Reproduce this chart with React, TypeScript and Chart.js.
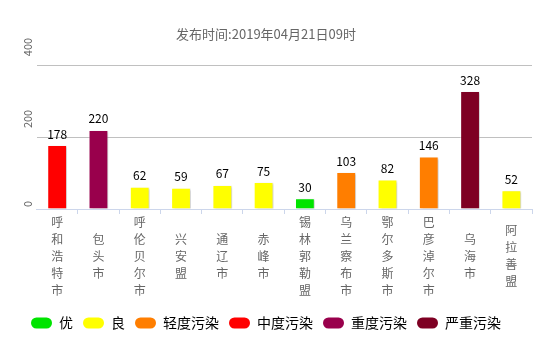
import { useEffect, useRef } from 'react';
import { Chart, registerables } from 'chart.js';

Chart.register(...registerables);

const cities = ['呼和浩特市', '包头市', '呼伦贝尔市', '兴安盟', '通辽市', '赤峰市', '锡林郭勒盟', '乌兰察布市', '鄂尔多斯市', '巴彦淖尔市', '乌海市', '阿拉善盟'];
const aqiValues = [178, 220, 62, 59, 67, 75, 30, 103, 82, 146, 328, 52];
const levelIndex = [3, 4, 1, 1, 1, 1, 0, 2, 1, 2, 5, 1];
const levelNames = ['优', '良', '轻度污染', '中度污染', '重度污染', '严重污染'];
const levelColors = ['#00e400', '#ffff00', '#ff7e00', '#ff0000', '#99004c', '#7e0023'];
const yMax = 400;
const yStep = 200;
const titleText = '发布时间:2019年04月21日09时';

const FONT = '"Noto Sans CJK SC", "Noto Sans", sans-serif';

const shadowPlugin = {
  id: 'barShadow',
  beforeDatasetsDraw(chart: any) {
    const c = chart.ctx;
    c.save();
    c.shadowColor = 'rgba(0,0,0,0.18)';
    c.shadowOffsetX = 2;
    c.shadowOffsetY = 1;
    c.shadowBlur = 2;
  },
  afterDatasetsDraw(chart: any) {
    chart.ctx.restore();
  },
};

const labelPlugin = {
  id: 'customLabels',
  afterDraw(chart: any) {
    const ctx = chart.ctx;
    const meta = chart.getDatasetMeta(0);
    ctx.save();
    ctx.font = '12px ' + FONT;
    ctx.fillStyle = '#000';
    ctx.textAlign = 'center';
    ctx.textBaseline = 'middle';
    meta.data.forEach((bar: any, i: number) => {
      ctx.fillText(String(aqiValues[i]), bar.x, bar.y - 11);
    });
    const ys = chart.scales.y;
    ctx.font = '11px ' + FONT;
    ctx.fillStyle = '#666';
    ys.ticks.forEach((t: any) => {
      const py = ys.getPixelForValue(t.value);
      ctx.save();
      ctx.translate(27.5, t.value === 0 ? py - 2 : py - 9);
      ctx.rotate(-Math.PI / 2);
      ctx.textAlign = 'left';
      ctx.textBaseline = 'middle';
      ctx.fillText(String(t.value), 0, 0);
      ctx.restore();
    });
    ctx.restore();
  },
};

export default function App() {
  const canvasRef = useRef<HTMLCanvasElement | null>(null);

  useEffect(() => {
    document.body.style.margin = '0';
    const canvas = canvasRef.current;
    if (!canvas) return;
    const chart = new Chart(canvas, {
      type: 'bar',
      data: {
        labels: cities.map((c) => c.split('')),
        datasets: [
          {
            data: aqiValues,
            backgroundColor: levelIndex.map((l) => levelColors[l]),
            borderColor: 'rgba(255,255,255,0.45)',
            borderWidth: 1,
            barPercentage: 0.48,
            categoryPercentage: 1,
          },
        ],
      },
      options: {
        animation: false,
        responsive: true,
        maintainAspectRatio: false,
        layout: { padding: { left: 0, right: 14, top: 0, bottom: 11 } },
        plugins: {
          tooltip: { enabled: false },
          title: {
            display: true,
            text: titleText,
            color: '#666',
            font: { family: FONT, size: 13, weight: 'normal' },
            padding: { top: 26, bottom: 23.6 },
          },
          legend: {
            display: true,
            position: 'bottom',
            onClick: () => {},
            labels: {
              boxWidth: 21,
              boxHeight: 11,
              useBorderRadius: true,
              borderRadius: 5.5,
              padding: 10,
              color: '#333',
              font: { family: FONT, size: 14 },
              generateLabels: () =>
                levelNames.map((name, i) => ({
                  text: name,
                  fillStyle: levelColors[i],
                  strokeStyle: levelColors[i],
                  lineWidth: 0,
                  hidden: false,
                  borderRadius: 5.5,
                  index: i,
                  datasetIndex: 0,
                })),
            },
          },
        },
        scales: {
          x: {
            offset: true,
            border: { display: true, color: '#ccd6eb', width: 1 },
            grid: {
              display: true,
              offset: true,
              drawOnChartArea: false,
              drawTicks: true,
              tickLength: 5,
              color: (c: any) => (c.index === 0 ? 'rgba(0,0,0,0)' : '#ccd6eb'),
            },
            ticks: {
              color: '#666',
              font: { family: FONT, size: 12, lineHeight: 17 / 12 },
              crossAlign: 'center',
              maxRotation: 0,
              minRotation: 0,
              autoSkip: false,
              padding: 8,
            },
            afterFit: (scale: any) => {
              scale.height = 97;
            },
          },
          y: {
            min: 0,
            max: yMax,
            border: { display: false },
            grid: {
              drawTicks: false,
              color: (c: any) => (c.tick && c.tick.value === 0 ? 'rgba(0,0,0,0)' : '#c0c0c0'),
            },
            ticks: { display: false, stepSize: yStep },
            afterFit: (scale: any) => {
              scale.width = 36.5;
            },
          },
        },
      },
      plugins: [shadowPlugin, labelPlugin],
    });
    return () => chart.destroy();
  }, []);

  return (
    <div style={{ position: 'relative', width: 546, height: 351 }}>
      <canvas ref={canvasRef} />
    </div>
  );
}
